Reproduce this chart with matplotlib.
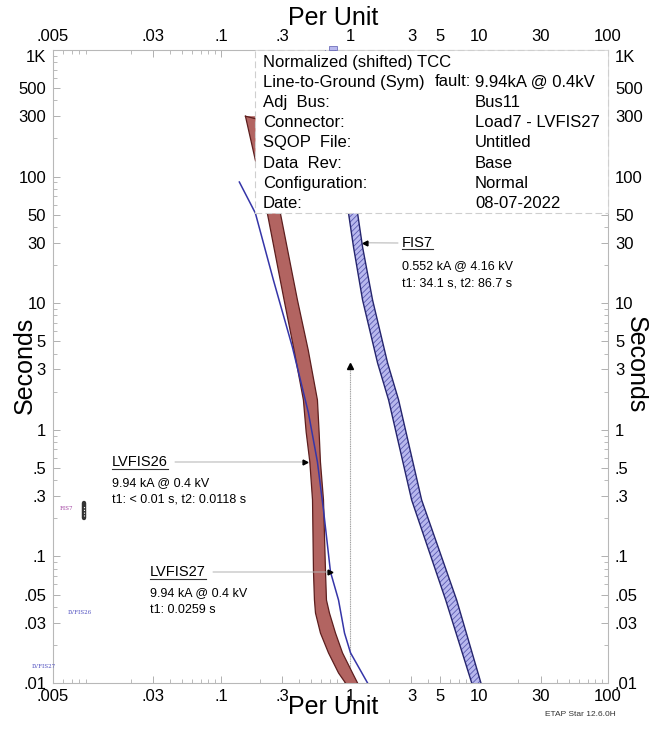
import matplotlib
matplotlib.use('Agg')
import matplotlib.pyplot as plt
from matplotlib.patches import Rectangle
from matplotlib.lines import Line2D
from matplotlib.ticker import FixedLocator, LogLocator, NullFormatter

plt.rcParams['font.family'] = ['Liberation Sans', 'DejaVu Sans']
plt.rcParams['hatch.color'] = '#5a5ab0'
plt.rcParams['hatch.linewidth'] = 0.6

W, H = 649, 729

# axis ticks
x_ticks = [0.005, 0.03, 0.1, 0.3, 1, 3, 5, 10, 30, 100]
x_labels = ['.005', '.03', '.1', '.3', '1', '3', '5', '10', '30', '100']
y_ticks = [0.01, 0.03, 0.05, 0.1, 0.3, 0.5, 1, 3, 5, 10, 30, 50, 100, 300, 500, 1000]
y_labels = ['.01', '.03', '.05', '.1', '.3', '.5', '1', '3', '5', '10', '30', '50',
            '100', '300', '500', '1K']

# LVFIS26 fuse band (min melt / total clearing)
lv26_t = [300, 51.5, 10.6, 4.27, 1.72, 0.96, 0.557, 0.279, 0.0753, 0.0452, 0.0357, 0.0248,
          0.0173, 0.0120, 0.01]
lv26_min = [0.155, 0.229, 0.309, 0.369, 0.436, 0.458, 0.489, 0.513, 0.522, 0.531, 0.541,
            0.591, 0.682, 0.816, 0.924]
lv26_max = [0.206, 0.289, 0.392, 0.475, 0.560, 0.577, 0.591, 0.624, 0.647, 0.658, 0.694,
            0.773, 0.876, 1.047, 1.146]

# LVFIS27 curve
lv27_t = [90.6, 51.5, 15.3, 4.51, 1.36, 0.557, 0.2325, 0.0753, 0.0452, 0.0248, 0.0173, 0.01]
lv27_pu = [0.139, 0.185, 0.255, 0.358, 0.477, 0.560, 0.624, 0.707, 0.816, 0.908, 1.011, 1.370]

# FIS7 fuse band
fis7_t = [1000, 51.5, 27.8, 10.6, 3.37, 1.72, 0.279, 0.0452, 0.01]
fis7_min = [0.645, 0.975, 1.066, 1.253, 1.638, 1.994, 3.008, 5.524, 8.79]
fis7_max = [0.77, 1.146, 1.253, 1.498, 1.959, 2.384, 3.596, 6.72, 10.36]

# fault marker
fault_pu = 1.0
fault_t = [0.01, 3.2]

# annotation targets (pu, s)
fis7_tip = (1.30, 30.0)
lv26_tip = (0.45, 0.557)
lv27_tip = (0.70, 0.0753)

info_left = ['Normalized (shifted) TCC', 'Line-to-Ground (Sym)', 'Adj  Bus:', 'Connector:',
             'SQOP  File:', 'Data  Rev:', 'Configuration:', 'Date:']
info_right = ['', '9.94kA @ 0.4kV', 'Bus11', 'Load7 - LVFIS27', 'Untitled', 'Base',
              'Normal', '08-07-2022']

fig = plt.figure(figsize=(W / 100, H / 100), dpi=100)
ax = fig.add_axes([53 / W, 46 / H, 555 / W, 633 / H])
ax.set_xscale('log')
ax.set_yscale('log')
ax.set_xlim(0.005, 100)
ax.set_ylim(0.01, 1000)


def ftext(px, py, s, **kw):
    return fig.text(px / W, 1 - py / H, s, **kw)


# curves
red_face = '#b26461'
red_edge = '#5c1e1e'
ax.fill_betweenx(lv26_t, lv26_min, lv26_max, facecolor=red_face, edgecolor='none', zorder=2)
ax.plot(lv26_min, lv26_t, color=red_edge, lw=0.9, zorder=3)
ax.plot(lv26_max, lv26_t, color=red_edge, lw=0.9, zorder=3)
ax.plot([lv26_min[0], lv26_max[0]], [lv26_t[0], lv26_t[0] * 0.93], color=red_edge, lw=0.9, zorder=3)

ax.fill_betweenx(fis7_t, fis7_min, fis7_max, facecolor='#b8b8ee', edgecolor='#5a5ab0',
                 hatch='//////', linewidth=0, zorder=2)
ax.plot(fis7_min, fis7_t, color='#25256e', lw=1.0, zorder=3)
ax.plot(fis7_max, fis7_t, color='#25256e', lw=1.0, zorder=3)

ax.plot(lv27_pu, lv27_t, color='#3535a8', lw=1.1, zorder=4)

ax.plot([fault_pu, fault_pu], fault_t, color='#a0a0a0', lw=0.8, ls=(0, (1, 0.6)), zorder=1)
ax.plot([fault_pu], [fault_t[1]], marker='^', color='black', ms=4, zorder=5)

# small legend marker on the left
ax.plot([0.0087, 0.0087], [0.201, 0.264], color='#333333', lw=3.2, solid_capstyle='round', zorder=3)
ax.plot([0.0087, 0.0087], [0.208, 0.255], color='white', lw=0.8, ls=(0, (1, 1.5)), zorder=4)

# ticks
ax.xaxis.set_major_locator(FixedLocator(x_ticks))
ax.set_xticklabels(x_labels)
ax.yaxis.set_major_locator(FixedLocator(y_ticks))
ax.set_yticklabels(y_labels)
ax.xaxis.set_minor_locator(LogLocator(base=10, subs=range(2, 10)))
ax.yaxis.set_minor_locator(LogLocator(base=10, subs=range(2, 10)))
ax.xaxis.set_minor_formatter(NullFormatter())
ax.yaxis.set_minor_formatter(NullFormatter())
ax.tick_params(axis='both', which='both', direction='in', colors='#b0b0b0',
               labelcolor='black', labelsize=12, top=True, right=True)
ax.tick_params(axis='both', which='major', length=5, width=0.7)
ax.tick_params(axis='both', which='minor', length=3, width=0.6)
ax.tick_params(axis='x', labeltop=True, labelbottom=True, pad=4)
ax.tick_params(axis='y', labelleft=True, labelright=True, pad=5)
for t in ax.yaxis.get_major_ticks()[-1:]:
    t.label1.set_va('top')
    t.label2.set_va('top')
for s in ax.spines.values():
    s.set_color('#b8b8b8')
    s.set_linewidth(0.8)

# axis titles
ftext(333, 18, 'Per Unit', fontsize=18, ha='center', va='center')
ftext(333, 707, 'Per Unit', fontsize=18, ha='center', va='center')
ftext(25, 365, 'Seconds', fontsize=18, ha='center', va='center', rotation=90)
ftext(636, 365, 'Seconds', fontsize=18, ha='center', va='center', rotation=-90)
ftext(580, 715, 'ETAP Star 12.6.0H', fontsize=6, ha='center', va='center', color='#333333')

# info box
box = Rectangle((255 / W, 1 - 213 / H), (608 - 255) / W, (213 - 50) / H,
                transform=fig.transFigure, facecolor='white', edgecolor='#cfcfcf',
                lw=0.8, ls=(0, (6, 3)), zorder=6)
fig.add_artist(box)
for i, (l, r) in enumerate(zip(info_left, info_right)):
    py = 62 + 20.2 * i
    ftext(263, py, l, fontsize=12, va='center', zorder=7)
    if r:
        ftext(475, py, r, fontsize=12, va='center', zorder=7)
ftext(471, 82, 'fault:', fontsize=12, va='center', ha='right', zorder=7)

# tiny top marker of FIS7
fig.add_artist(Rectangle((329 / W, 1 - 50 / H), 8 / W, 4 / H, transform=fig.transFigure,
                         facecolor='#b8b8ee', edgecolor='#5a5ab0', lw=0.5, zorder=7))

# small device labels
ftext(66, 508, 'FIS7', fontsize=4, family='DejaVu Serif', color='#a040a0', ha='center', va='center')
ftext(80, 613, 'LVFIS26', fontsize=4, family='DejaVu Serif', color='#5050c0', ha='center', va='center')
ftext(44, 666, 'LVFIS27', fontsize=4, family='DejaVu Serif', color='#5050c0', ha='center', va='center')

# annotations
titles = []
titles.append(ftext(402, 243, 'FIS7', fontsize=10.5, va='center'))
ftext(402, 266, '0.552 kA @ 4.16 kV', fontsize=9, va='center')
ftext(402, 284, 't1: 34.1 s, t2: 86.7 s', fontsize=9, va='center')
titles.append(ftext(112, 462, 'LVFIS26', fontsize=10.5, va='center'))
ftext(112, 483, '9.94 kA @ 0.4 kV', fontsize=9, va='center')
ftext(112, 500, 't1: < 0.01 s, t2: 0.0118 s', fontsize=9, va='center')
titles.append(ftext(150, 572, 'LVFIS27', fontsize=10.5, va='center'))
ftext(150, 593, '9.94 kA @ 0.4 kV', fontsize=9, va='center')
ftext(150, 610, 't1: 0.0259 s', fontsize=9, va='center')

for tip, (sx, sy), mk in [(fis7_tip, (398, 243), '<'), (lv26_tip, (175, 462), '>'),
                          (lv27_tip, (213, 572), '>')]:
    ax.annotate('', xy=tip, xycoords='data', xytext=(sx / W, 1 - sy / H),
                textcoords='figure fraction',
                arrowprops=dict(arrowstyle='-', color='#b0b0b0', lw=0.7, shrinkA=0, shrinkB=0))
    ax.plot([tip[0]], [tip[1]], marker=mk, color='black', ms=3.5, zorder=5)

fig.canvas.draw()
r = fig.canvas.get_renderer()
for t in titles:
    bb = t.get_window_extent(r)
    y = bb.y0 + 0.5
    fig.add_artist(Line2D([bb.x0 / W, bb.x1 / W], [y / H, y / H], color='#333333', lw=0.8,
                          transform=fig.transFigure))

fig.savefig('out.png', dpi=100)
